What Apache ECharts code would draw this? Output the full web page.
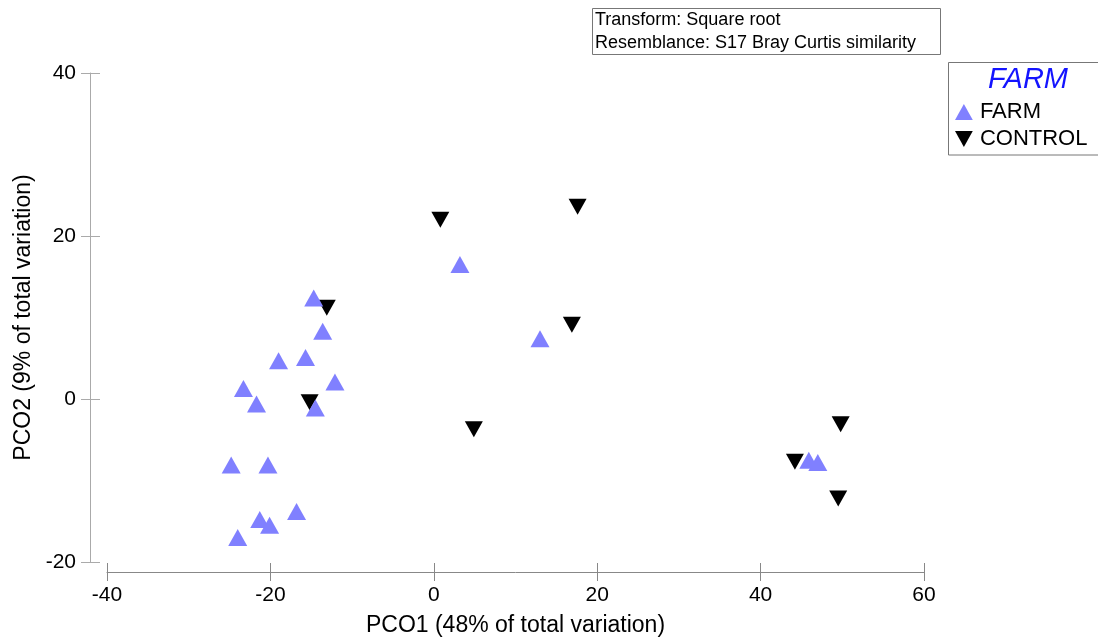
<!DOCTYPE html>
<html>
<head>
<meta charset="utf-8">
<script src="https://cdn.jsdelivr.net/npm/echarts@6/dist/echarts.min.js"></script>
<style>
  html, body { margin: 0; padding: 0; background: #fff; }
  #chart { width: 1098px; height: 639px; }
</style>
</head>
<body>
<div id="chart"></div>
<script>
// PCO ordination scores (PCO1, PCO2) per sample group
const farmPoints = [
  [-14.7, 12.4], [-13.6, 8.3], [-19.0, 4.7], [-15.7, 5.1], [-12.1, 2.1],
  [-23.3, 1.3], [-21.7, -0.6], [-14.5, -1.1], [-24.8, -8.1], [-20.3, -8.1],
  [-16.8, -13.8], [-21.3, -14.8], [-20.1, -15.5], [-24.0, -17.0],
  [3.2, 16.5], [13.0, 7.4], [45.9, -7.5], [47.0, -7.8]
];
const controlPoints = [
  [0.8, 22.0], [17.6, 23.6], [16.9, 9.1], [4.9, -3.7], [-13.1, 11.2],
  [-15.2, -0.4], [44.2, -7.7], [49.8, -3.1], [49.5, -12.2]
];
const seriesNames = ['FARM', 'CONTROL'];
const xTicks = [-40, -20, 0, 20, 40, 60];
const yTicks = [-20, 0, 20, 40];
const xAxisTitle = 'PCO1 (48% of total variation)';
const yAxisTitle = 'PCO2 (9% of total variation)';
const infoLines = ['Transform: Square root', 'Resemblance: S17 Bray Curtis similarity'];
const legendTitle = 'FARM';

const FONT = '"Liberation Sans", Arial, sans-serif';
const upTri = 'path://M5,0 L10,9 L0,9 Z';
const downTri = 'path://M0,0 L10,0 L5,9 Z';

const chart = echarts.init(document.getElementById('chart'), null, { renderer: 'canvas' });

// Each axis is paired with a label-less twin whose inward ticks make the ticks cross the line.
const xBase = {
  type: 'value', position: 'bottom', min: xTicks[0], max: xTicks[xTicks.length - 1], interval: 20,
  splitLine: { show: false }, offset: 10
};
const yBase = {
  type: 'value', position: 'left', min: yTicks[0], max: yTicks[yTicks.length - 1], interval: 20,
  splitLine: { show: false }, offset: 17
};

chart.setOption({
  animation: false,
  backgroundColor: '#fff',
  textStyle: { fontFamily: FONT },
  grid: { left: 107, right: 174, top: 73, bottom: 77, containLabel: false, outerBoundsMode: 'none' },
  xAxis: [
    Object.assign({}, xBase, {
      name: xAxisTitle, nameLocation: 'middle', nameGap: 42,
      nameTextStyle: { fontSize: 23, color: '#000', fontFamily: FONT },
      axisLine: { show: true, onZero: false, lineStyle: { color: '#888', width: 1 } },
      axisTick: { show: true, inside: false, length: 9, lineStyle: { color: '#888' } },
      axisLabel: { color: '#000', fontSize: 21, margin: 13, fontFamily: FONT }
    }),
    Object.assign({}, xBase, {
      axisLine: { show: false, onZero: false },
      axisTick: { show: true, inside: true, length: 9, lineStyle: { color: '#888' } },
      axisLabel: { show: false }
    })
  ],
  yAxis: [
    Object.assign({}, yBase, {
      name: yAxisTitle, nameLocation: 'middle', nameGap: 55,
      nameTextStyle: { fontSize: 23, color: '#000', fontFamily: FONT },
      axisLine: { show: true, onZero: false, lineStyle: { color: '#aaa', width: 1 } },
      axisTick: { show: true, inside: false, length: 9, lineStyle: { color: '#aaa' } },
      axisLabel: { color: '#000', fontSize: 21, margin: 14, fontFamily: FONT }
    }),
    Object.assign({}, yBase, {
      axisLine: { show: false, onZero: false },
      axisTick: { show: true, inside: true, length: 10, lineStyle: { color: '#aaa' } },
      axisLabel: { show: false }
    })
  ],
  legend: {
    orient: 'vertical', left: 955, top: 101, padding: 0, itemGap: 5,
    itemWidth: 18, itemHeight: 16,
    textStyle: { fontSize: 22, color: '#000', fontFamily: FONT, padding: [0, 0, 0, 2] },
    data: [
      { name: seriesNames[0], icon: upTri },
      { name: seriesNames[1], icon: downTri }
    ]
  },
  graphic: [
    {
      type: 'rect', shape: { x: 592.5, y: 8.5, width: 348, height: 46 },
      style: { fill: '#fff', stroke: '#777', lineWidth: 1 }, z: 10
    },
    {
      type: 'text', left: 595, top: 9, z: 11,
      style: { text: infoLines.join('\n'), lineHeight: 23, fill: '#000', font: '18px ' + FONT }
    },
    {
      type: 'rect', shape: { x: 948.5, y: 62.5, width: 170, height: 92.5 },
      style: { fill: 'none', stroke: '#777', lineWidth: 1 }, z: 10
    },
    {
      type: 'text', x: 1028, y: 80, z: 11,
      style: {
        text: legendTitle, fill: '#1414ff', align: 'center', verticalAlign: 'middle',
        font: 'italic 29px ' + FONT
      }
    }
  ],
  series: [
    {
      name: seriesNames[0], type: 'scatter', data: farmPoints,
      symbol: upTri, symbolSize: [19, 17],
      itemStyle: { color: '#8080ff', opacity: 1 }, z: 3
    },
    {
      name: seriesNames[1], type: 'scatter', data: controlPoints,
      symbol: downTri, symbolSize: [18, 16],
      itemStyle: { color: '#000', opacity: 1 }, z: 2
    }
  ]
});
</script>
</body>
</html>
